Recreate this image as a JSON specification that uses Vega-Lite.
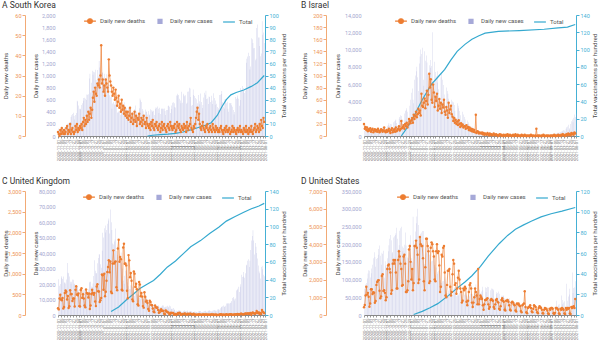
{
"$schema":"https://vega.github.io/schema/vega-lite/v6.json",
"background":"white",
"padding":{"left":2,"right":0,"top":0,"bottom":0},
"datasets":{"t":[
{"d":"2020-11-01","kc":124,"kd":2,"ic":650,"id":20,"uc":23000,"ud":162,"sc":74000,"sd":440},
{"d":"2020-11-02","kc":97,"kd":1,"ic":1100,"id":12,"uc":18900,"ud":136,"sc":86000,"sd":560},
{"d":"2020-11-03","kc":75,"kd":0,"ic":800,"id":15,"uc":20000,"ud":397,"sc":90000,"sd":1100},
{"d":"2020-11-04","kc":118,"kd":3,"ic":950,"id":10,"uc":25000,"ud":492,"sc":103000,"sd":1600},
{"d":"2020-11-05","kc":125,"kd":1,"ic":700,"id":14,"uc":24100,"ud":378,"sc":117000,"sd":1150},
{"d":"2020-11-06","kc":145,"kd":4,"ic":850,"id":8,"uc":23300,"ud":355,"sc":126000,"sd":1250},
{"d":"2020-11-07","kc":89,"kd":2,"ic":600,"id":11,"uc":24900,"ud":413,"sc":125000,"sd":1030},
{"d":"2020-11-08","kc":143,"kd":1,"ic":450,"id":9,"uc":20600,"ud":156,"sc":106000,"sd":470},
{"d":"2020-11-09","kc":100,"kd":3,"ic":900,"id":13,"uc":21300,"ud":194,"sc":118000,"sd":650},
{"d":"2020-11-10","kc":146,"kd":1,"ic":750,"id":7,"uc":20400,"ud":532,"sc":131000,"sd":1450},
{"d":"2020-11-11","kc":143,"kd":2,"ic":800,"id":10,"uc":22900,"ud":595,"sc":142000,"sd":1450},
{"d":"2020-11-12","kc":191,"kd":4,"ic":650,"id":12,"uc":33500,"ud":563,"sc":160000,"sd":1180},
{"d":"2020-11-13","kc":205,"kd":5,"ic":720,"id":6,"uc":27300,"ud":376,"sc":177000,"sd":1280},
{"d":"2020-11-14","kc":208,"kd":1,"ic":500,"id":9,"uc":26900,"ud":462,"sc":164000,"sd":1260},
{"d":"2020-11-15","kc":222,"kd":3,"ic":420,"id":11,"uc":24900,"ud":168,"sc":136000,"sd":690},
{"d":"2020-11-16","kc":230,"kd":2,"ic":750,"id":8,"uc":21400,"ud":213,"sc":158000,"sd":790},
{"d":"2020-11-17","kc":313,"kd":6,"ic":850,"id":10,"uc":20100,"ud":598,"sc":161000,"sd":1700},
{"d":"2020-11-18","kc":343,"kd":1,"ic":700,"id":7,"uc":21400,"ud":501,"sc":170000,"sd":1860},
{"d":"2020-11-19","kc":363,"kd":3,"ic":780,"id":12,"uc":22900,"ud":511,"sc":186000,"sd":1950},
{"d":"2020-11-20","kc":386,"kd":4,"ic":650,"id":9,"uc":22800,"ud":341,"sc":196000,"sd":1970},
{"d":"2020-11-21","kc":330,"kd":2,"ic":500,"id":6,"uc":20300,"ud":398,"sc":167000,"sd":1370},
{"d":"2020-11-22","kc":271,"kd":1,"ic":550,"id":8,"uc":19900,"ud":398,"sc":142000,"sd":940},
{"d":"2020-11-23","kc":349,"kd":2,"ic":900,"id":11,"uc":15400,"ud":206,"sc":176000,"sd":1050},
{"d":"2020-11-24","kc":382,"kd":5,"ic":1000,"id":10,"uc":11300,"ud":608,"sc":172000,"sd":2200},
{"d":"2020-11-25","kc":583,"kd":3,"ic":850,"id":7,"uc":18600,"ud":696,"sc":181000,"sd":2300},
{"d":"2020-11-26","kc":569,"kd":6,"ic":950,"id":9,"uc":18300,"ud":498,"sc":105000,"sd":1350},
{"d":"2020-11-27","kc":504,"kd":2,"ic":780,"id":14,"uc":16000,"ud":479,"sc":152000,"sd":1400},
{"d":"2020-11-28","kc":450,"kd":4,"ic":600,"id":8,"uc":14800,"ud":521,"sc":140000,"sd":1250},
{"d":"2020-11-29","kc":438,"kd":3,"ic":700,"id":6,"uc":12100,"ud":215,"sc":136000,"sd":830},
{"d":"2020-11-30","kc":451,"kd":5,"ic":1200,"id":10,"uc":13400,"ud":205,"sc":160000,"sd":1000},
{"d":"2020-12-01","kc":511,"kd":4,"ic":1300,"id":7,"uc":12300,"ud":603,"sc":180000,"sd":2600},
{"d":"2020-12-02","kc":540,"kd":6,"ic":1500,"id":9,"uc":13400,"ud":648,"sc":197000,"sd":2800},
{"d":"2020-12-03","kc":629,"kd":3,"ic":1200,"id":12,"uc":16200,"ud":414,"sc":215000,"sd":2850},
{"d":"2020-12-04","kc":583,"kd":7,"ic":1400,"id":8,"uc":14900,"ud":504,"sc":226000,"sd":2600},
{"d":"2020-12-05","kc":631,"kd":9,"ic":1350,"id":5,"uc":16300,"ud":397,"sc":211000,"sd":2400},
{"d":"2020-12-06","kc":615,"kd":5,"ic":900,"id":10,"uc":15500,"ud":231,"sc":174000,"sd":1200},
{"d":"2020-12-07","kc":594,"kd":8,"ic":800,"id":13,"uc":15500,"ud":189,"sc":178000,"sd":1400},
{"d":"2020-12-08","kc":686,"kd":6,"ic":1600,"id":6,"uc":14700,"ud":616,"sc":219000,"sd":2900},
{"d":"2020-12-09","kc":682,"kd":10,"ic":1700,"id":9,"uc":12300,"ud":533,"sc":222000,"sd":3100},
{"d":"2020-12-10","kc":689,"kd":7,"ic":1800,"id":11,"uc":16600,"ud":516,"sc":226000,"sd":2900},
{"d":"2020-12-11","kc":950,"kd":12,"ic":1900,"id":7,"uc":20900,"ud":424,"sc":231000,"sd":3100},
{"d":"2020-12-12","kc":1030,"kd":8,"ic":1500,"id":14,"uc":21500,"ud":519,"sc":246000,"sd":2400},
{"d":"2020-12-13","kc":718,"kd":11,"ic":1100,"id":8,"uc":21500,"ud":144,"sc":215000,"sd":1500},
{"d":"2020-12-14","kc":880,"kd":14,"ic":1000,"id":10,"uc":18400,"ud":232,"sc":186000,"sd":1500},
{"d":"2020-12-15","kc":1078,"kd":9,"ic":2000,"id":12,"uc":18000,"ud":506,"sc":197000,"sd":3100},
{"d":"2020-12-16","kc":1014,"kd":13,"ic":2200,"id":16,"uc":20300,"ud":612,"sc":238000,"sd":3600},
{"d":"2020-12-17","kc":1064,"kd":19,"ic":2400,"id":9,"uc":25200,"ud":532,"sc":245000,"sd":3300},
{"d":"2020-12-18","kc":1053,"kd":22,"ic":2300,"id":11,"uc":35400,"ud":489,"sc":249000,"sd":2900},
{"d":"2020-12-19","kc":1097,"kd":17,"ic":1900,"id":25,"uc":28500,"ud":534,"sc":193000,"sd":2600,"iv":0},
{"d":"2020-12-20","kc":926,"kd":24,"ic":1400,"id":13,"uc":27000,"ud":326,"sc":180000,"sd":1650},
{"d":"2020-12-21","kc":869,"kd":21,"ic":1300,"id":15,"uc":27000,"ud":215,"sc":190000,"sd":1700},
{"d":"2020-12-22","kc":1092,"kd":20,"ic":2600,"id":18,"uc":33400,"ud":691,"sc":198000,"sd":3300},
{"d":"2020-12-23","kc":985,"kd":26,"ic":2900,"id":12,"uc":36800,"ud":744,"sc":233000,"sd":3400,"iv":5},
{"d":"2020-12-24","kc":1241,"kd":25,"ic":3000,"id":20,"uc":39200,"ud":574,"sc":196000,"sd":2900},
{"d":"2020-12-25","kc":1132,"kd":28,"ic":3200,"id":16,"uc":39000,"ud":570,"sc":100000,"sd":1300},
{"d":"2020-12-26","kc":970,"kd":24,"ic":2800,"id":22,"uc":32700,"ud":316,"sc":162000,"sd":1300},
{"d":"2020-12-27","kc":808,"kd":30,"ic":2100,"id":14,"uc":30500,"ud":357,"sc":160000,"sd":1400},
{"d":"2020-12-28","kc":1045,"kd":45,"ic":1800,"id":19,"uc":41400,"ud":414,"sc":175000,"sd":1900},
{"d":"2020-12-29","kc":1050,"kd":26,"ic":3500,"id":28,"uc":53100,"ud":981,"sc":201000,"sd":3700,"iv":13},
{"d":"2020-12-30","kc":967,"kd":28,"ic":4200,"id":24,"uc":50000,"ud":964,"sc":225000,"sd":3900},
{"d":"2020-12-31","kc":1029,"kd":22,"ic":5000,"id":21,"uc":55900,"ud":613,"sc":160000,"sd":3000},
{"d":"2021-01-01","kc":824,"kd":25,"ic":5500,"id":26,"uc":53300,"ud":1000,"sc":150000,"sd":2000},
{"d":"2021-01-02","kc":657,"kd":20,"ic":4200,"id":30,"uc":57700,"ud":455,"sc":277000,"sd":2600},
{"d":"2021-01-03","kc":1020,"kd":28,"ic":3800,"id":22,"uc":54900,"ud":563,"sc":210000,"sd":1400},
{"d":"2021-01-04","kc":714,"kd":26,"ic":6500,"id":35,"uc":58800,"ud":830,"sc":186000,"sd":1800,"sv":0.5},
{"d":"2021-01-05","kc":838,"kd":24,"ic":7000,"id":28,"uc":60900,"ud":1041,"sc":236000,"sd":3900},
{"d":"2021-01-06","kc":869,"kd":22,"ic":7500,"id":33,"uc":62300,"ud":1162,"sc":259000,"sd":3900,"iv":26},
{"d":"2021-01-07","kc":674,"kd":38,"ic":8000,"id":40,"uc":52600,"ud":1325,"sc":278000,"sd":4200},
{"d":"2021-01-08","kc":641,"kd":30,"ic":6800,"id":31,"uc":68000,"ud":1035,"sc":300000,"sd":3800},
{"d":"2021-01-09","kc":665,"kd":27,"ic":5200,"id":36,"uc":59900,"ud":1295,"sc":254000,"sd":3400},
{"d":"2021-01-10","kc":451,"kd":25,"ic":8400,"id":45,"uc":54900,"ud":563,"sc":212000,"sd":1800,"uv":4},
{"d":"2021-01-11","kc":537,"kd":22,"ic":9200,"id":38,"uc":46200,"ud":529,"sc":216000,"sd":2000},
{"d":"2021-01-12","kc":562,"kd":20,"ic":10000,"id":42,"uc":45500,"ud":1243,"sc":229000,"sd":4400},
{"d":"2021-01-13","kc":524,"kd":24,"ic":9500,"id":34,"uc":47500,"ud":1564,"sc":233000,"sd":4000},
{"d":"2021-01-14","kc":513,"kd":21,"ic":10200,"id":70,"uc":48700,"ud":1248,"sc":237000,"sd":3900},
{"d":"2021-01-15","kc":580,"kd":18,"ic":6500,"id":50,"uc":55800,"ud":1280,"sc":237000,"sd":3900,"iv":42,"sv":3.5},
{"d":"2021-01-16","kc":520,"kd":23,"ic":5800,"id":48,"uc":41300,"ud":1295,"sc":201000,"sd":3200},
{"d":"2021-01-17","kc":389,"kd":19,"ic":9800,"id":55,"uc":38900,"ud":671,"sc":143000,"sd":1900},
{"d":"2021-01-18","kc":386,"kd":15,"ic":8700,"id":62,"uc":37500,"ud":599,"sc":143000,"sd":1400},
{"d":"2021-01-19","kc":404,"kd":17,"ic":9300,"id":46,"uc":33400,"ud":1610,"sc":174000,"sd":2700},
{"d":"2021-01-20","kc":401,"kd":20,"ic":8500,"id":58,"uc":39000,"ud":1820,"sc":185000,"sd":4300,"uv":9},
{"d":"2021-01-21","kc":346,"kd":14,"ic":7200,"id":75,"uc":38000,"ud":1290,"sc":194000,"sd":4300},
{"d":"2021-01-22","kc":431,"kd":16,"ic":5600,"id":52,"uc":40300,"ud":1401,"sc":189000,"sd":3900},
{"d":"2021-01-23","kc":392,"kd":12,"ic":8200,"id":68,"uc":33500,"ud":1348,"sc":170000,"sd":3600},
{"d":"2021-01-24","kc":437,"kd":18,"ic":7900,"id":103,"uc":30000,"ud":610,"sc":131000,"sd":1800},
{"d":"2021-01-25","kc":349,"kd":13,"ic":8800,"id":80,"uc":22200,"ud":592,"sc":149000,"sd":1900,"sv":7},
{"d":"2021-01-26","kc":559,"kd":15,"ic":8100,"id":94,"uc":20100,"ud":1631,"sc":152000,"sd":3800},
{"d":"2021-01-27","kc":497,"kd":11,"ic":12000,"id":60,"uc":25300,"ud":1725,"sc":153000,"sd":4100,"iv":60},
{"d":"2021-01-28","kc":469,"kd":14,"ic":6000,"id":55,"uc":28600,"ud":1239,"sc":167000,"sd":4000},
{"d":"2021-01-29","kc":458,"kd":10,"ic":4800,"id":85,"uc":29100,"ud":1245,"sc":169000,"sd":3600},
{"d":"2021-01-30","kc":355,"kd":12,"ic":8600,"id":72,"uc":23300,"ud":1200,"sc":141000,"sd":3300,"uv":17},
{"d":"2021-01-31","kc":305,"kd":9,"ic":7400,"id":48,"uc":21000,"ud":587,"sc":112000,"sd":2000},
{"d":"2021-02-01","kc":467,"kd":12,"ic":6900,"id":65,"uc":18600,"ud":406,"sc":134000,"sd":1900},
{"d":"2021-02-02","kc":336,"kd":8,"ic":7500,"id":58,"uc":16800,"ud":1449,"sc":116000,"sd":3600},
{"d":"2021-02-03","kc":467,"kd":10,"ic":6200,"id":70,"uc":16600,"ud":1322,"sc":121000,"sd":4000},
{"d":"2021-02-04","kc":451,"kd":14,"ic":5400,"id":42,"uc":19200,"ud":915,"sc":125000,"sd":3500,"iv":68,"sv":11},
{"d":"2021-02-05","kc":370,"kd":7,"ic":4000,"id":50,"uc":19100,"ud":1014,"sc":134000,"sd":3600},
{"d":"2021-02-06","kc":393,"kd":9,"ic":3500,"id":61,"uc":18300,"ud":828,"sc":99000,"sd":2800},
{"d":"2021-02-07","kc":372,"kd":11,"ic":6800,"id":45,"uc":15800,"ud":373,"sc":92000,"sd":1300},
{"d":"2021-02-08","kc":289,"kd":6,"ic":7200,"id":55,"uc":14200,"ud":333,"sc":90000,"sd":1600},
{"d":"2021-02-09","kc":444,"kd":8,"ic":6500,"id":38,"uc":12300,"ud":1052,"sc":95000,"sd":3400,"uv":24},
{"d":"2021-02-10","kc":504,"kd":12,"ic":5900,"id":52,"uc":14100,"ud":1001,"sc":96000,"sd":3300},
{"d":"2021-02-11","kc":403,"kd":7,"ic":4800,"id":47,"uc":13500,"ud":678,"sc":108000,"sd":3800},
{"d":"2021-02-12","kc":362,"kd":10,"ic":3600,"id":60,"uc":15100,"ud":758,"sc":103000,"sd":3900},
{"d":"2021-02-13","kc":326,"kd":5,"ic":3000,"id":40,"uc":13300,"ud":621,"sc":86000,"sd":2400,"iv":77},
{"d":"2021-02-14","kc":344,"kd":9,"ic":5600,"id":35,"uc":13300,"ud":258,"sc":63000,"sd":1100},
{"d":"2021-02-15","kc":457,"kd":8,"ic":5200,"id":48,"uc":10900,"ud":230,"sc":52000,"sd":1000},
{"d":"2021-02-16","kc":621,"kd":11,"ic":4900,"id":42,"uc":9800,"ud":799,"sc":62000,"sd":1700},
{"d":"2021-02-17","kc":590,"kd":6,"ic":4300,"id":30,"uc":10600,"ud":738,"sc":69000,"sd":2500,"uv":30},
{"d":"2021-02-18","kc":561,"kd":7,"ic":3700,"id":55,"uc":12700,"ud":454,"sc":79000,"sd":2500,"sv":19},
{"d":"2021-02-19","kc":448,"kd":9,"ic":2800,"id":38,"uc":12000,"ud":533,"sc":71000,"sd":2600},
{"d":"2021-02-20","kc":416,"kd":5,"ic":2500,"id":44,"uc":10400,"ud":445,"sc":56000,"sd":1600},
{"d":"2021-02-21","kc":332,"kd":8,"ic":4200,"id":50,"uc":10400,"ud":215,"sc":59000,"sd":1100,"iv":88},
{"d":"2021-02-22","kc":357,"kd":10,"ic":4000,"id":36,"uc":9700,"ud":178,"sc":58000,"sd":1300},
{"d":"2021-02-23","kc":440,"kd":6,"ic":3900,"id":32,"uc":9000,"ud":548,"sc":72000,"sd":2300},
{"d":"2021-02-24","kc":396,"kd":7,"ic":3600,"id":25,"uc":10600,"ud":442,"sc":76000,"sd":3100},
{"d":"2021-02-25","kc":406,"kd":4,"ic":2900,"id":30,"uc":12000,"ud":323,"sc":78000,"sd":2900},
{"d":"2021-02-26","kc":355,"kd":9,"ic":2200,"id":22,"uc":9000,"ud":345,"sc":66000,"sd":1700},
{"d":"2021-02-27","kc":415,"kd":6,"ic":1900,"id":27,"uc":8500,"ud":290,"sc":53000,"sd":1800,"kv":0,"uv":35},
{"d":"2021-02-28","kc":355,"kd":5,"ic":3800,"id":20,"uc":7400,"ud":144,"sc":56000,"sd":1200},
{"d":"2021-03-01","kc":344,"kd":4,"ic":3500,"id":24,"uc":6000,"ud":104,"sc":58000,"sd":1500,"iv":98,"sv":26},
{"d":"2021-03-02","kc":444,"kd":6,"ic":3200,"id":18,"uc":5500,"ud":343,"sc":55000,"sd":2100},
{"d":"2021-03-03","kc":424,"kd":3,"ic":2900,"id":26,"uc":6400,"ud":315,"sc":63000,"sd":2500},
{"d":"2021-03-04","kc":398,"kd":7,"ic":2400,"id":20,"uc":5800,"ud":242,"sc":67000,"sd":2000},
{"d":"2021-03-05","kc":416,"kd":5,"ic":1800,"id":15,"uc":6600,"ud":236,"sc":65000,"sd":1500},
{"d":"2021-03-06","kc":418,"kd":8,"ic":1500,"id":21,"uc":6000,"ud":158,"sc":58000,"sd":1300,"kv":0.6},
{"d":"2021-03-07","kc":346,"kd":4,"ic":2800,"id":17,"uc":5200,"ud":82,"sc":41000,"sd":700,"uv":39},
{"d":"2021-03-08","kc":446,"kd":3,"ic":2500,"id":19,"uc":5000,"ud":65,"sc":45000,"sd":800},
{"d":"2021-03-09","kc":470,"kd":6,"ic":2200,"id":14,"uc":4700,"ud":231,"sc":57000,"sd":1500},
{"d":"2021-03-10","kc":465,"kd":5,"ic":1900,"id":16,"uc":5900,"ud":190,"sc":58000,"sd":1400},
{"d":"2021-03-11","kc":488,"kd":7,"ic":1400,"id":16,"uc":5900,"ud":175,"sc":63000,"sd":1600,"iv":106,"sv":32},
{"d":"2021-03-12","kc":452,"kd":4,"ic":1100,"id":12,"uc":6300,"ud":181,"sc":55000,"sd":1500},
{"d":"2021-03-13","kc":382,"kd":3,"ic":1800,"id":18,"uc":5500,"ud":121,"sc":41000,"sd":750},
{"d":"2021-03-14","kc":469,"kd":5,"ic":1600,"id":13,"uc":4600,"ud":52,"sc":38000,"sd":550},
{"d":"2021-03-15","kc":363,"kd":6,"ic":1400,"id":15,"uc":5100,"ud":64,"sc":56000,"sd":800},
{"d":"2021-03-16","kc":445,"kd":2,"ic":1200,"id":10,"uc":5100,"ud":110,"sc":53000,"sd":1300,"kv":1.2,"uv":46},
{"d":"2021-03-17","kc":463,"kd":4,"ic":900,"id":14,"uc":5800,"ud":141,"sc":60000,"sd":1700},
{"d":"2021-03-18","kc":445,"kd":7,"ic":700,"id":9,"uc":6300,"ud":95,"sc":60000,"sd":1800},
{"d":"2021-03-19","kc":452,"kd":3,"ic":1100,"id":12,"uc":6100,"ud":101,"sc":59000,"sd":1500},
{"d":"2021-03-20","kc":456,"kd":5,"ic":900,"id":8,"uc":5000,"ud":96,"sc":48000,"sd":700,"iv":112,"sv":38},
{"d":"2021-03-21","kc":415,"kd":6,"ic":800,"id":11,"uc":4600,"ud":33,"sc":33000,"sd":450},
{"d":"2021-03-22","kc":346,"kd":4,"ic":650,"id":7,"uc":5300,"ud":17,"sc":53000,"sd":700},
{"d":"2021-03-23","kc":428,"kd":3,"ic":500,"id":10,"uc":5500,"ud":112,"sc":54000,"sd":1000},
{"d":"2021-03-24","kc":430,"kd":2,"ic":400,"id":6,"uc":6000,"ud":98,"sc":86000,"sd":1500},
{"d":"2021-03-25","kc":494,"kd":5,"ic":650,"id":35,"uc":5300,"ud":70,"sc":65000,"sd":1300,"uv":54},
{"d":"2021-03-26","kc":505,"kd":6,"ic":550,"id":5,"uc":4800,"ud":63,"sc":63000,"sd":1100,"kv":1.6},
{"d":"2021-03-27","kc":482,"kd":4,"ic":450,"id":8,"uc":6200,"ud":58,"sc":51000,"sd":600},
{"d":"2021-03-28","kc":382,"kd":3,"ic":380,"id":7,"uc":5600,"ud":19,"sc":39000,"sd":2600},
{"d":"2021-03-29","kc":447,"kd":7,"ic":300,"id":4,"uc":4000,"ud":23,"sc":71000,"sd":600,"iv":116},
{"d":"2021-03-30","kc":506,"kd":5,"ic":250,"id":6,"uc":3900,"ud":56,"sc":62000,"sd":900},
{"d":"2021-03-31","kc":551,"kd":4,"ic":350,"id":5,"uc":4000,"ud":45,"sc":66000,"sd":1100,"sv":47},
{"d":"2021-04-01","kc":557,"kd":3,"ic":300,"id":4,"uc":4500,"ud":51,"sc":80000,"sd":1000},
{"d":"2021-04-02","kc":543,"kd":5,"ic":250,"id":6,"uc":3400,"ud":52,"sc":70000,"sd":900},
{"d":"2021-04-03","kc":477,"kd":4,"ic":200,"id":3,"uc":3400,"ud":10,"sc":36000,"sd":550},
{"d":"2021-04-04","kc":473,"kd":6,"ic":150,"id":5,"uc":2300,"ud":10,"sc":35000,"sd":300},
{"d":"2021-04-05","kc":668,"kd":2,"ic":120,"id":2,"uc":2700,"ud":26,"sc":78000,"sd":600,"kv":2.2,"uv":61},
{"d":"2021-04-06","kc":700,"kd":3,"ic":230,"id":4,"uc":2400,"ud":7,"sc":65000,"sd":850,"iv":119},
{"d":"2021-04-07","kc":671,"kd":7,"ic":200,"id":3,"uc":2600,"ud":20,"sc":76000,"sd":850},
{"d":"2021-04-08","kc":677,"kd":5,"ic":170,"id":2,"uc":3000,"ud":45,"sc":80000,"sd":900},
{"d":"2021-04-09","kc":614,"kd":4,"ic":140,"id":5,"uc":3100,"ud":30,"sc":79000,"sd":950},
{"d":"2021-04-10","kc":587,"kd":6,"ic":110,"id":3,"uc":2700,"ud":53,"sc":49000,"sd":600,"sv":57},
{"d":"2021-04-11","kc":542,"kd":3,"ic":90,"id":1,"uc":2600,"ud":40,"sc":38000,"sd":350},
{"d":"2021-04-12","kc":731,"kd":2,"ic":160,"id":4,"uc":2000,"ud":7,"sc":70000,"sd":450},
{"d":"2021-04-13","kc":549,"kd":5,"ic":130,"id":2,"uc":1900,"ud":13,"sc":75000,"sd":850},
{"d":"2021-04-14","kc":698,"kd":4,"ic":110,"id":3,"uc":2500,"ud":23,"sc":74000,"sd":900},
{"d":"2021-04-15","kc":673,"kd":3,"ic":100,"id":1,"uc":2400,"ud":21,"sc":73000,"sd":850,"kv":3.3,"uv":69},
{"d":"2021-04-16","kc":658,"kd":6,"ic":80,"id":2,"uc":3000,"ud":22,"sc":70000,"sd":800},
{"d":"2021-04-17","kc":672,"kd":4,"ic":60,"id":4,"uc":2600,"ud":34,"sc":46000,"sd":450},
{"d":"2021-04-18","kc":532,"kd":5,"ic":120,"id":2,"uc":2200,"ud":32,"sc":30000,"sd":350},
{"d":"2021-04-19","kc":549,"kd":2,"ic":100,"id":1,"uc":2400,"ud":10,"sc":64000,"sd":600},
{"d":"2021-04-20","kc":731,"kd":7,"ic":90,"id":3,"uc":2900,"ud":4,"sc":59000,"sd":850},
{"d":"2021-04-21","kc":735,"kd":4,"ic":70,"id":2,"uc":2000,"ud":33,"sc":62000,"sd":900},
{"d":"2021-04-22","kc":797,"kd":3,"ic":60,"id":1,"uc":2300,"ud":23,"sc":66000,"sd":750},
{"d":"2021-04-23","kc":785,"kd":5,"ic":50,"id":0,"uc":2600,"ud":16,"sc":60000,"sd":700,"iv":121},
{"d":"2021-04-24","kc":644,"kd":6,"ic":90,"id":2,"uc":2400,"ud":29,"sc":37000,"sd":350,"sv":69},
{"d":"2021-04-25","kc":499,"kd":9,"ic":80,"id":3,"uc":2500,"ud":32,"sc":30000,"sd":300,"kv":5,"uv":77},
{"d":"2021-04-26","kc":512,"kd":4,"ic":70,"id":1,"uc":1900,"ud":18,"sc":54000,"sd":500},
{"d":"2021-04-27","kc":769,"kd":3,"ic":60,"id":2,"uc":1700,"ud":11,"sc":54000,"sd":850},
{"d":"2021-04-28","kc":679,"kd":2,"ic":50,"id":0,"uc":2000,"ud":14,"sc":55000,"sd":950},
{"d":"2021-04-29","kc":661,"kd":5,"ic":40,"id":1,"uc":2200,"ud":29,"sc":52000,"sd":800},
{"d":"2021-04-30","kc":627,"kd":4,"ic":70,"id":2,"uc":2100,"ud":14,"sc":47000,"sd":750},
{"d":"2021-05-01","kc":606,"kd":6,"ic":60,"id":1,"uc":2000,"ud":15,"sc":30000,"sd":300},
{"d":"2021-05-02","kc":488,"kd":9,"ic":50,"id":0,"uc":1700,"ud":1,"sc":19000,"sd":250},
{"d":"2021-05-03","kc":541,"kd":12,"ic":45,"id":2,"uc":1600,"ud":4,"sc":48000,"sd":800},
{"d":"2021-05-04","kc":676,"kd":14,"ic":40,"id":1,"uc":2500,"ud":5,"sc":43000,"sd":800},
{"d":"2021-05-05","kc":574,"kd":8,"ic":35,"id":3,"uc":2400,"ud":13,"sc":44000,"sd":850,"kv":7,"sv":77},
{"d":"2021-05-06","kc":525,"kd":11,"ic":60,"id":0,"uc":2600,"ud":14,"sc":47000,"sd":750},
{"d":"2021-05-07","kc":701,"kd":6,"ic":55,"id":1,"uc":2600,"ud":11,"sc":38000,"sd":550},
{"d":"2021-05-08","kc":564,"kd":4,"ic":50,"id":2,"uc":2000,"ud":5,"sc":22000,"sd":300,"uv":84},
{"d":"2021-05-09","kc":463,"kd":3,"ic":45,"id":1,"uc":1600,"ud":8,"sc":14000,"sd":250},
{"d":"2021-05-10","kc":511,"kd":5,"ic":40,"id":0,"uc":2000,"ud":3,"sc":35000,"sd":700},
{"d":"2021-05-11","kc":635,"kd":7,"ic":35,"id":1,"uc":2300,"ud":14,"sc":35000,"sd":750},
{"d":"2021-05-12","kc":715,"kd":4,"ic":50,"id":2,"uc":2600,"ud":11,"sc":34000,"sd":700},
{"d":"2021-05-13","kc":681,"kd":3,"ic":45,"id":0,"uc":2700,"ud":7,"sc":37000,"sd":600},
{"d":"2021-05-14","kc":747,"kd":2,"ic":40,"id":1,"uc":2200,"ud":14,"sc":33000,"sd":550},
{"d":"2021-05-15","kc":610,"kd":5,"ic":35,"id":3,"uc":2000,"ud":7,"sc":17000,"sd":250,"kv":9,"sv":83},
{"d":"2021-05-16","kc":619,"kd":4,"ic":30,"id":1,"uc":2300,"ud":10,"sc":12000,"sd":200},
{"d":"2021-05-17","kc":528,"kd":6,"ic":25,"id":0,"uc":2600,"ud":5,"sc":26000,"sd":650},
{"d":"2021-05-18","kc":654,"kd":3,"ic":40,"id":2,"uc":3100,"ud":4,"sc":31000,"sd":600},
{"d":"2021-05-19","kc":646,"kd":2,"ic":35,"id":1,"uc":2900,"ud":7,"sc":29000,"sd":650},
{"d":"2021-05-20","kc":561,"kd":4,"ic":30,"id":0,"uc":2600,"ud":8,"sc":29000,"sd":550,"iv":122,"uv":92},
{"d":"2021-05-21","kc":666,"kd":5,"ic":25,"id":1,"uc":2400,"ud":6,"sc":27000,"sd":500},
{"d":"2021-05-22","kc":585,"kd":3,"ic":20,"id":0,"uc":2000,"ud":13,"sc":15000,"sd":220,"kv":11},
{"d":"2021-05-23","kc":530,"kd":2,"ic":18,"id":2,"uc":2800,"ud":12,"sc":9000,"sd":150},
{"d":"2021-05-24","kc":707,"kd":6,"ic":30,"id":1,"uc":3000,"ud":9,"sc":25000,"sd":550},
{"d":"2021-05-25","kc":629,"kd":4,"ic":25,"id":0,"uc":3200,"ud":10,"sc":24000,"sd":600,"sv":87},
{"d":"2021-05-26","kc":516,"kd":3,"ic":20,"id":1,"uc":3100,"ud":4,"sc":25000,"sd":650},
{"d":"2021-05-27","kc":587,"kd":2,"ic":18,"id":2,"uc":2500,"ud":0,"sc":21000,"sd":1340},
{"d":"2021-05-28","kc":533,"kd":5,"ic":15,"id":0,"uc":2800,"ud":10,"sc":18000,"sd":450},
{"d":"2021-05-29","kc":480,"kd":3,"ic":12,"id":1,"uc":3500,"ud":8,"sc":9000,"sd":150},
{"d":"2021-05-30","kc":430,"kd":4,"ic":20,"id":0,"uc":3900,"ud":0,"sc":6000,"sd":100,"kv":17},
{"d":"2021-05-31","kc":459,"kd":2,"ic":18,"id":1,"uc":3000,"ud":1,"sc":8000,"sd":400},
{"d":"2021-06-01","kc":677,"kd":3,"ic":15,"id":0,"uc":3400,"ud":3,"sc":15000,"sd":450,"uv":99},
{"d":"2021-06-02","kc":681,"kd":2,"ic":12,"id":1,"uc":4300,"ud":12,"sc":19000,"sd":450},
{"d":"2021-06-03","kc":695,"kd":4,"ic":10,"id":0,"uc":5000,"ud":12,"sc":18000,"sd":550},
{"d":"2021-06-04","kc":744,"kd":5,"ic":20,"id":2,"uc":5300,"ud":18,"sc":14000,"sd":400},
{"d":"2021-06-05","kc":556,"kd":3,"ic":18,"id":1,"uc":5700,"ud":0,"sc":8000,"sd":200,"kv":24,"sv":91},
{"d":"2021-06-06","kc":485,"kd":2,"ic":15,"id":0,"uc":6200,"ud":5,"sc":5000,"sd":150},
{"d":"2021-06-07","kc":454,"kd":1,"ic":12,"id":1,"uc":5300,"ud":11,"sc":16000,"sd":350},
{"d":"2021-06-08","kc":602,"kd":3,"ic":10,"id":0,"uc":5300,"ud":1,"sc":14000,"sd":550},
{"d":"2021-06-09","kc":611,"kd":4,"ic":8,"id":0,"uc":6000,"ud":8,"sc":14000,"sd":500},
{"d":"2021-06-10","kc":540,"kd":2,"ic":15,"id":1,"uc":7500,"ud":7,"sc":16000,"sd":450},
{"d":"2021-06-11","kc":565,"kd":5,"ic":12,"id":12,"uc":7300,"ud":16,"sc":12000,"sd":300,"kv":30,"uv":106},
{"d":"2021-06-12","kc":452,"kd":3,"ic":25,"id":0,"uc":7700,"ud":8,"sc":6000,"sd":150},
{"d":"2021-06-13","kc":399,"kd":2,"ic":20,"id":1,"uc":7400,"ud":8,"sc":5000,"sd":100},
{"d":"2021-06-14","kc":545,"kd":3,"ic":18,"id":0,"uc":7500,"ud":7,"sc":12000,"sd":400},
{"d":"2021-06-15","kc":540,"kd":4,"ic":15,"id":1,"uc":7700,"ud":11,"sc":11000,"sd":500},
{"d":"2021-06-16","kc":545,"kd":1,"ic":12,"id":0,"uc":8100,"ud":16,"sc":13000,"sd":450},
{"d":"2021-06-17","kc":507,"kd":2,"ic":30,"id":0,"uc":9000,"ud":21,"sc":10000,"sd":400,"kv":34,"sv":95},
{"d":"2021-06-18","kc":482,"kd":3,"ic":50,"id":1,"uc":11000,"ud":15,"sc":10000,"sd":300},
{"d":"2021-06-19","kc":429,"kd":5,"ic":80,"id":0,"uc":11600,"ud":8,"sc":4000,"sd":100},
{"d":"2021-06-20","kc":357,"kd":2,"ic":120,"id":2,"uc":10500,"ud":3,"sc":3000,"sd":80},
{"d":"2021-06-21","kc":395,"kd":4,"ic":100,"id":1,"uc":9300,"ud":10,"sc":11000,"sd":300,"iv":123.5},
{"d":"2021-06-22","kc":645,"kd":3,"ic":70,"id":0,"uc":10600,"ud":11,"sc":12000,"sd":400,"uv":111},
{"d":"2021-06-23","kc":610,"kd":2,"ic":60,"id":0,"uc":15800,"ud":14,"sc":13000,"sd":350},
{"d":"2021-06-24","kc":634,"kd":1,"ic":110,"id":1,"uc":16100,"ud":16,"sc":14000,"sd":350,"kv":36},
{"d":"2021-06-25","kc":668,"kd":3,"ic":130,"id":0,"uc":17000,"ud":16,"sc":13000,"sd":250},
{"d":"2021-06-26","kc":614,"kd":4,"ic":150,"id":1,"uc":18300,"ud":22,"sc":4000,"sd":80},
{"d":"2021-06-27","kc":501,"kd":2,"ic":120,"id":0,"uc":14900,"ud":19,"sc":3000,"sd":60},
{"d":"2021-06-28","kc":595,"kd":3,"ic":90,"id":0,"uc":18200,"ud":10,"sc":19000,"sd":350},
{"d":"2021-06-29","kc":794,"kd":5,"ic":80,"id":1,"uc":19800,"ud":17,"sc":12000,"sd":300},
{"d":"2021-06-30","kc":761,"kd":2,"ic":180,"id":0,"uc":26000,"ud":33,"sc":15000,"sd":400,"sv":98},
{"d":"2021-07-01","kc":826,"kd":3,"ic":200,"id":1,"uc":24500,"ud":28,"sc":16000,"sd":400},
{"d":"2021-07-02","kc":794,"kd":2,"ic":250,"id":0,"uc":27800,"ud":18,"sc":13000,"sd":350},
{"d":"2021-07-03","kc":743,"kd":1,"ic":160,"id":1,"uc":24800,"ud":16,"sc":5000,"sd":100},
{"d":"2021-07-04","kc":711,"kd":4,"ic":220,"id":2,"uc":24000,"ud":15,"sc":3000,"sd":60,"kv":38,"uv":116},
{"d":"2021-07-05","kc":746,"kd":3,"ic":300,"id":0,"uc":27000,"ud":26,"sc":4000,"sd":120},
{"d":"2021-07-06","kc":1212,"kd":2,"ic":330,"id":1,"uc":32500,"ud":37,"sc":40000,"sd":400},
{"d":"2021-07-07","kc":1275,"kd":5,"ic":380,"id":0,"uc":32000,"ud":33,"sc":24000,"sd":400},
{"d":"2021-07-08","kc":1316,"kd":2,"ic":350,"id":1,"uc":35000,"ud":32,"sc":27000,"sd":350},
{"d":"2021-07-09","kc":1378,"kd":3,"ic":420,"id":2,"uc":36000,"ud":39,"sc":31000,"sd":300,"iv":125},
{"d":"2021-07-10","kc":1324,"kd":1,"ic":280,"id":1,"uc":31000,"ud":34,"sc":7000,"sd":80},
{"d":"2021-07-11","kc":1100,"kd":4,"ic":450,"id":1,"uc":35000,"ud":32,"sc":5000,"sd":50},
{"d":"2021-07-12","kc":1150,"kd":2,"ic":520,"id":0,"uc":42000,"ud":34,"sc":55000,"sd":350},
{"d":"2021-07-13","kc":1615,"kd":3,"ic":480,"id":2,"uc":48000,"ud":50,"sc":30000,"sd":300},
{"d":"2021-07-14","kc":1600,"kd":5,"ic":610,"id":1,"uc":51000,"ud":6,"sc":42000,"sd":400,"kv":41,"uv":120,"sv":100.5},
{"d":"2021-07-15","kc":1536,"kd":2,"ic":700,"id":3,"uc":54600,"ud":48,"sc":35000,"sd":350},
{"d":"2021-07-16","kc":1452,"kd":1,"ic":650,"id":2,"uc":48000,"ud":63,"sc":39000,"sd":300},
{"d":"2021-07-17","kc":1454,"kd":3,"ic":480,"id":1,"uc":39000,"ud":41,"sc":9000,"sd":80},
{"d":"2021-07-18","kc":1252,"kd":4,"ic":850,"id":0,"uc":46500,"ud":39,"sc":8000,"sd":50},
{"d":"2021-07-19","kc":1278,"kd":6,"ic":1000,"id":2,"uc":44000,"ud":27,"sc":88000,"sd":400},
{"d":"2021-07-20","kc":1784,"kd":2,"ic":1100,"id":3,"uc":40000,"ud":51,"sc":40000,"sd":300},
{"d":"2021-07-21","kc":1842,"kd":3,"ic":1300,"id":1,"uc":36500,"ud":96,"sc":52000,"sd":400,"iv":126},
{"d":"2021-07-22","kc":1630,"kd":5,"ic":900,"id":4,"uc":32000,"ud":70,"sc":58000,"sd":350,"kv":44},
{"d":"2021-07-23","kc":1629,"kd":4,"ic":750,"id":2,"uc":28000,"ud":40,"sc":74000,"sd":400},
{"d":"2021-07-24","kc":1487,"kd":2,"ic":1400,"id":3,"uc":27000,"ud":61,"sc":13000,"sd":90,"uv":123},
{"d":"2021-07-25","kc":1318,"kd":6,"ic":1700,"id":1,"uc":23500,"ud":26,"sc":11000,"sd":60},
{"d":"2021-07-26","kc":1365,"kd":3,"ic":1900,"id":5,"uc":31000,"ud":51,"sc":120000,"sd":450},
{"d":"2021-07-27","kc":1896,"kd":8,"ic":1600,"id":3,"uc":31800,"ud":23,"sc":62000,"sd":400},
{"d":"2021-07-28","kc":1674,"kd":5,"ic":2100,"id":4,"uc":29500,"ud":123,"sc":76000,"sd":450},
{"d":"2021-07-29","kc":1710,"kd":4,"ic":2500,"id":2,"uc":26000,"ud":82,"sc":78000,"sd":500},
{"d":"2021-07-30","kc":1539,"kd":9,"ic":2200,"id":6,"uc":25000,"ud":69,"sc":95000,"sd":400},
{"d":"2021-07-31","kc":1442,"kd":7,"ic":2600,"id":4,"uc":30000,"ud":40,"sc":190000,"sd":900,"kv":50,"iv":129,"uv":126,"sv":104}
]},
"data":{"name":"t"},
"columns":2,
"spacing":{"row":15,"column":14},
"resolve":{"scale":{"color":"independent"},"legend":{"color":"independent"}},
"concat":[
{"width":207,"height":121,"title":{"text":"A  South Korea"},
"layer":[
{"mark":{"type":"bar"},"encoding":{
"x":{"field":"d","timeUnit":"yearmonthdate","type":"temporal","title":null,"axis":{"format":"%Y-%m-%d","labelAngle":270,"labelFontSize":4.3,"labelColor":"#777","tickCount":{"interval":"day","step":4},"labelOverlap":false,"labelFlush":false,"labelPadding":1,"tickSize":2,"tickColor":"#999","domainColor":"#888"}},
"y":{"field":"kc","type":"quantitative","scale":{"domain":[0,2000],"nice":false},"axis":{"orient":"left","title":"Daily new cases","tickCount":10,"format":",.0f","labelColor":"#A3A6CF","domain":false,"ticks":false,"labelPadding":3,"minExtent":18,"maxExtent":18,"titlePadding":2}},
"color":{"datum":"Daily new cases","type":"nominal","scale":{"domain":["Daily new deaths","Daily new cases","Total"],"range":["#ED7D31","#A6A9D8","#35A9CF"]},
"legend":{"orient":"none","legendX":25,"legendY":-1,"direction":"horizontal","title":null,"labelFontSize":6,"labelColor":"#555","symbolSize":140,"symbolStrokeWidth":1.2,"columnPadding":7,"labelOffset":3,
"encode":{"symbols":{"update":{
"shape":{"signal":"datum.value === 'Daily new deaths' ? 'M-1,0H1M-0.4,0A0.4,0.4,0,1,0,0.4,0A0.4,0.4,0,1,0,-0.4,0' : datum.value === 'Daily new cases' ? 'square' : 'stroke'"},
"size":{"signal":"datum.value === 'Daily new cases' ? 16 : 140"},
"fill":{"signal":"datum.value === 'Daily new deaths' ? '#ED7D31' : datum.value === 'Daily new cases' ? '#9497CC' : 'transparent'"},
"stroke":{"signal":"datum.value === 'Total' ? '#35A9CF' : datum.value === 'Daily new deaths' ? '#ED7D31' : 'transparent'"},
"opacity":{"value":1}}}}}}}},
{"mark":{"type":"line","strokeWidth":1.2,"invalid":"filter"},"transform":[{"filter":{"field":"kv","valid":true}}],"encoding":{
"x":{"field":"d","timeUnit":"yearmonthdate","type":"temporal","title":null},
"y":{"field":"kv","type":"quantitative","scale":{"domain":[0,100],"nice":false},"axis":{"orient":"right","title":"Total vaccinations per hundred","titleAngle":270,"titleBaseline":"top","tickCount":10,"labelColor":"#45B0D5","domainColor":"#45B0D5","tickColor":"#45B0D5","tickSize":3,"labelPadding":1,"minExtent":13,"maxExtent":13,"titlePadding":2}},
"color":{"datum":"Total","type":"nominal"}}},
{"mark":{"type":"line","strokeWidth":0.7,"point":{"filled":true,"size":6}},"encoding":{
"x":{"field":"d","timeUnit":"yearmonthdate","type":"temporal","title":null},
"y":{"field":"kd","type":"quantitative","scale":{"domain":[0,60],"nice":false},"axis":{"orient":"left","offset":33,"title":"Daily new deaths","tickCount":6,"format":",.0f","labelColor":"#EE9355","domainColor":"#F2AA75","tickColor":"#F2AA75","tickSize":3,"labelPadding":1,"minExtent":15,"maxExtent":15,"titlePadding":2}},
"color":{"datum":"Daily new deaths","type":"nominal"}}}
],
"resolve":{"scale":{"y":"independent"}}},
{"width":212,"height":121,"title":{"text":"B  Israel"},
"layer":[
{"mark":{"type":"bar"},"encoding":{
"x":{"field":"d","timeUnit":"yearmonthdate","type":"temporal","title":null,"axis":{"format":"%Y-%m-%d","labelAngle":270,"labelFontSize":4.3,"labelColor":"#777","tickCount":{"interval":"day","step":4},"labelOverlap":false,"labelFlush":false,"labelPadding":1,"tickSize":2,"tickColor":"#999","domainColor":"#888"}},
"y":{"field":"ic","type":"quantitative","scale":{"domain":[0,14000],"nice":false},"axis":{"orient":"left","title":"Daily new cases","tickCount":7,"format":",.0f","labelColor":"#A3A6CF","domain":false,"ticks":false,"labelPadding":3,"minExtent":22,"maxExtent":22,"titlePadding":2}},
"color":{"datum":"Daily new cases","type":"nominal","scale":{"domain":["Daily new deaths","Daily new cases","Total"],"range":["#ED7D31","#A6A9D8","#35A9CF"]},
"legend":{"orient":"none","legendX":30,"legendY":-1,"direction":"horizontal","title":null,"labelFontSize":6,"labelColor":"#555","symbolSize":140,"symbolStrokeWidth":1.2,"columnPadding":7,"labelOffset":3,
"encode":{"symbols":{"update":{
"shape":{"signal":"datum.value === 'Daily new deaths' ? 'M-1,0H1M-0.4,0A0.4,0.4,0,1,0,0.4,0A0.4,0.4,0,1,0,-0.4,0' : datum.value === 'Daily new cases' ? 'square' : 'stroke'"},
"size":{"signal":"datum.value === 'Daily new cases' ? 16 : 140"},
"fill":{"signal":"datum.value === 'Daily new deaths' ? '#ED7D31' : datum.value === 'Daily new cases' ? '#9497CC' : 'transparent'"},
"stroke":{"signal":"datum.value === 'Total' ? '#35A9CF' : datum.value === 'Daily new deaths' ? '#ED7D31' : 'transparent'"},
"opacity":{"value":1}}}}}}}},
{"mark":{"type":"line","strokeWidth":1.2,"invalid":"filter"},"transform":[{"filter":{"field":"iv","valid":true}}],"encoding":{
"x":{"field":"d","timeUnit":"yearmonthdate","type":"temporal","title":null},
"y":{"field":"iv","type":"quantitative","scale":{"domain":[0,140],"nice":false},"axis":{"orient":"right","title":"Total vaccinations per hundred","titleAngle":270,"titleBaseline":"top","tickCount":7,"labelColor":"#45B0D5","domainColor":"#45B0D5","tickColor":"#45B0D5","tickSize":3,"labelPadding":1,"minExtent":13,"maxExtent":13,"titlePadding":2}},
"color":{"datum":"Total","type":"nominal"}}},
{"mark":{"type":"line","strokeWidth":0.7,"point":{"filled":true,"size":6}},"encoding":{
"x":{"field":"d","timeUnit":"yearmonthdate","type":"temporal","title":null},
"y":{"field":"id","type":"quantitative","scale":{"domain":[0,200],"nice":false},"axis":{"orient":"left","offset":38,"title":"Daily new deaths","tickCount":10,"format":",.0f","labelColor":"#EE9355","domainColor":"#F2AA75","tickColor":"#F2AA75","tickSize":3,"labelPadding":1,"minExtent":17,"maxExtent":17,"titlePadding":2}},
"color":{"datum":"Daily new deaths","type":"nominal"}}}
],
"resolve":{"scale":{"y":"independent"}}},
{"width":207,"height":124,"title":{"text":"C  United Kingdom"},
"layer":[
{"mark":{"type":"bar"},"encoding":{
"x":{"field":"d","timeUnit":"yearmonthdate","type":"temporal","title":null,"axis":{"format":"%Y-%m-%d","labelAngle":270,"labelFontSize":4.3,"labelColor":"#777","tickCount":{"interval":"day","step":4},"labelOverlap":false,"labelFlush":false,"labelPadding":1,"tickSize":2,"tickColor":"#999","domainColor":"#888"}},
"y":{"field":"uc","type":"quantitative","scale":{"domain":[0,80000],"nice":false},"axis":{"orient":"left","title":"Daily new cases","tickCount":8,"format":",.0f","labelColor":"#A3A6CF","domain":false,"ticks":false,"labelPadding":3,"minExtent":18,"maxExtent":18,"titlePadding":2}},
"color":{"datum":"Daily new cases","type":"nominal","scale":{"domain":["Daily new deaths","Daily new cases","Total"],"range":["#ED7D31","#A6A9D8","#35A9CF"]},
"legend":{"orient":"none","legendX":24,"legendY":-1,"direction":"horizontal","title":null,"labelFontSize":6,"labelColor":"#555","symbolSize":140,"symbolStrokeWidth":1.2,"columnPadding":7,"labelOffset":3,
"encode":{"symbols":{"update":{
"shape":{"signal":"datum.value === 'Daily new deaths' ? 'M-1,0H1M-0.4,0A0.4,0.4,0,1,0,0.4,0A0.4,0.4,0,1,0,-0.4,0' : datum.value === 'Daily new cases' ? 'square' : 'stroke'"},
"size":{"signal":"datum.value === 'Daily new cases' ? 16 : 140"},
"fill":{"signal":"datum.value === 'Daily new deaths' ? '#ED7D31' : datum.value === 'Daily new cases' ? '#9497CC' : 'transparent'"},
"stroke":{"signal":"datum.value === 'Total' ? '#35A9CF' : datum.value === 'Daily new deaths' ? '#ED7D31' : 'transparent'"},
"opacity":{"value":1}}}}}}}},
{"mark":{"type":"line","strokeWidth":1.2,"invalid":"filter"},"transform":[{"filter":{"field":"uv","valid":true}}],"encoding":{
"x":{"field":"d","timeUnit":"yearmonthdate","type":"temporal","title":null},
"y":{"field":"uv","type":"quantitative","scale":{"domain":[0,140],"nice":false},"axis":{"orient":"right","title":"Total vaccinations per hundred","titleAngle":270,"titleBaseline":"top","tickCount":7,"labelColor":"#45B0D5","domainColor":"#45B0D5","tickColor":"#45B0D5","tickSize":3,"labelPadding":1,"minExtent":13,"maxExtent":13,"titlePadding":2}},
"color":{"datum":"Total","type":"nominal"}}},
{"mark":{"type":"line","strokeWidth":0.7,"point":{"filled":true,"size":6}},"encoding":{
"x":{"field":"d","timeUnit":"yearmonthdate","type":"temporal","title":null},
"y":{"field":"ud","type":"quantitative","scale":{"domain":[0,3000],"nice":false},"axis":{"orient":"left","offset":33,"title":"Daily new deaths","tickCount":6,"format":",.0f","labelColor":"#EE9355","domainColor":"#F2AA75","tickColor":"#F2AA75","tickSize":3,"labelPadding":1,"minExtent":15,"maxExtent":15,"titlePadding":2}},
"color":{"datum":"Daily new deaths","type":"nominal"}}}
],
"resolve":{"scale":{"y":"independent"}}},
{"width":212,"height":124,"title":{"text":"D  United States"},
"layer":[
{"mark":{"type":"bar"},"encoding":{
"x":{"field":"d","timeUnit":"yearmonthdate","type":"temporal","title":null,"axis":{"format":"%Y-%m-%d","labelAngle":270,"labelFontSize":4.3,"labelColor":"#777","tickCount":{"interval":"day","step":4},"labelOverlap":false,"labelFlush":false,"labelPadding":1,"tickSize":2,"tickColor":"#999","domainColor":"#888"}},
"y":{"field":"sc","type":"quantitative","scale":{"domain":[0,350000],"nice":false},"axis":{"orient":"left","title":"Daily new cases","tickCount":7,"format":",.0f","labelColor":"#A3A6CF","domain":false,"ticks":false,"labelPadding":3,"minExtent":22,"maxExtent":22,"titlePadding":2}},
"color":{"datum":"Daily new cases","type":"nominal","scale":{"domain":["Daily new deaths","Daily new cases","Total"],"range":["#ED7D31","#A6A9D8","#35A9CF"]},
"legend":{"orient":"none","legendX":32,"legendY":-1,"direction":"horizontal","title":null,"labelFontSize":6,"labelColor":"#555","symbolSize":140,"symbolStrokeWidth":1.2,"columnPadding":7,"labelOffset":3,
"encode":{"symbols":{"update":{
"shape":{"signal":"datum.value === 'Daily new deaths' ? 'M-1,0H1M-0.4,0A0.4,0.4,0,1,0,0.4,0A0.4,0.4,0,1,0,-0.4,0' : datum.value === 'Daily new cases' ? 'square' : 'stroke'"},
"size":{"signal":"datum.value === 'Daily new cases' ? 16 : 140"},
"fill":{"signal":"datum.value === 'Daily new deaths' ? '#ED7D31' : datum.value === 'Daily new cases' ? '#9497CC' : 'transparent'"},
"stroke":{"signal":"datum.value === 'Total' ? '#35A9CF' : datum.value === 'Daily new deaths' ? '#ED7D31' : 'transparent'"},
"opacity":{"value":1}}}}}}}},
{"mark":{"type":"line","strokeWidth":1.2,"invalid":"filter"},"transform":[{"filter":{"field":"sv","valid":true}}],"encoding":{
"x":{"field":"d","timeUnit":"yearmonthdate","type":"temporal","title":null},
"y":{"field":"sv","type":"quantitative","scale":{"domain":[0,120],"nice":false},"axis":{"orient":"right","title":"Total vaccinations per hundred","titleAngle":270,"titleBaseline":"top","tickCount":6,"labelColor":"#45B0D5","domainColor":"#45B0D5","tickColor":"#45B0D5","tickSize":3,"labelPadding":1,"minExtent":13,"maxExtent":13,"titlePadding":2}},
"color":{"datum":"Total","type":"nominal"}}},
{"mark":{"type":"line","strokeWidth":0.7,"point":{"filled":true,"size":6}},"encoding":{
"x":{"field":"d","timeUnit":"yearmonthdate","type":"temporal","title":null},
"y":{"field":"sd","type":"quantitative","scale":{"domain":[0,7000],"nice":false},"axis":{"orient":"left","offset":38,"title":"Daily new deaths","tickCount":7,"format":",.0f","labelColor":"#EE9355","domainColor":"#F2AA75","tickColor":"#F2AA75","tickSize":3,"labelPadding":1,"minExtent":17,"maxExtent":17,"titlePadding":2}},
"color":{"datum":"Daily new deaths","type":"nominal"}}}
],
"resolve":{"scale":{"y":"independent"}}}
],
"config":{
"font":"Roboto",
"view":{"stroke":null},
"axis":{"grid":false,"labelFontSize":5.5,"titleFontSize":6.2,"titleFontWeight":"normal","titleColor":"#444"},
"title":{"anchor":"start","frame":"bounds","fontSize":8.5,"fontWeight":"normal","color":"#333","offset":4},
"legend":{"labelFontSize":6,"labelColor":"#555"}
}
}
